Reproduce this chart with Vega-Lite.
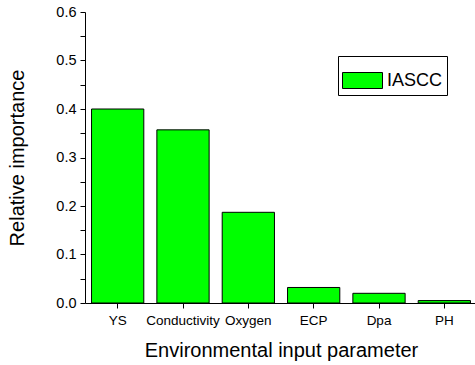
{
  "$schema": "https://vega.github.io/schema/vega-lite/v6.json",
  "autosize": {"type": "none"},
  "padding": {"left": 85, "top": 12, "right": 0, "bottom": 62},
  "width": 392,
  "height": 291,
  "background": "white",
  "config": {
    "view": {"stroke": null},
    "font": "Liberation Sans",
    "axis": {"domainColor": "black", "tickColor": "black", "labelColor": "black", "titleColor": "black", "grid": false, "labelFont": "Liberation Sans", "titleFont": "Liberation Sans", "titleFontWeight": "normal"}
  },
  "data": {"values": [
    {"param": "YS", "importance": 0.400, "series": "IASCC"},
    {"param": "Conductivity", "importance": 0.357, "series": "IASCC"},
    {"param": "Oxygen", "importance": 0.187, "series": "IASCC"},
    {"param": "ECP", "importance": 0.032, "series": "IASCC"},
    {"param": "Dpa", "importance": 0.020, "series": "IASCC"},
    {"param": "PH", "importance": 0.005, "series": "IASCC"}
  ]},
  "mark": {"type": "bar", "stroke": "black", "strokeWidth": 1},
  "encoding": {
    "x": {
      "field": "param", "type": "nominal", "sort": null,
      "scale": {"paddingInner": 0.2, "paddingOuter": 0.1},
      "axis": {"title": "Environmental input parameter", "labelAngle": 0, "labelFontSize": 13.5, "titleFontSize": 20, "tickSize": 5, "labelPadding": 5, "titlePadding": 14}
    },
    "y": {
      "field": "importance", "type": "quantitative",
      "scale": {"domain": [0, 0.6], "nice": false},
      "axis": {"title": "Relative importance", "values": [0, 0.05, 0.1, 0.15, 0.2, 0.25, 0.3, 0.35, 0.4, 0.45, 0.5, 0.55, 0.6], "labelExpr": "(round(datum.value*100) % 10 == 0) ? format(datum.value, '.1f') : ''", "labelFontSize": 14.5, "titleFontSize": 20, "tickSize": 5, "labelPadding": 4, "titlePadding": 28}
    },
    "color": {
      "field": "series", "type": "nominal",
      "scale": {"range": ["#00ff00"]},
      "legend": {"title": null, "orient": "none", "legendX": 253, "legendY": 44, "symbolType": "M-1,-0.4H1V0.4H-1Z", "symbolSize": 1600, "symbolStrokeColor": "black", "symbolStrokeWidth": 1, "symbolFillColor": "#00ff00", "labelFontSize": 18, "labelColor": "black", "strokeColor": "black", "padding": 4, "labelOffset": 4}
    }
  }
}
